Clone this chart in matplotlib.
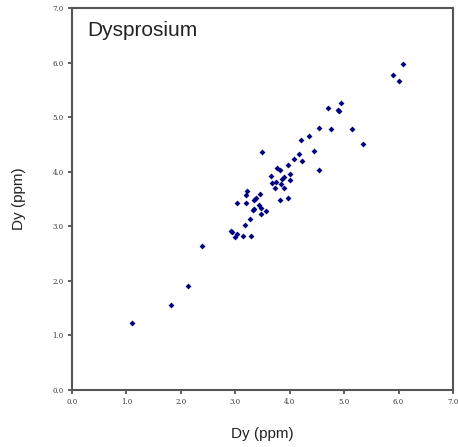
import matplotlib
matplotlib.use("Agg")
import matplotlib.pyplot as plt

# Dy measured vs Dy reference (ppm)
dy_x = [1.11, 1.82, 2.14, 2.39, 2.92, 2.94, 3.04, 3.00, 3.15, 3.28,
        3.17, 3.27, 3.47, 3.56, 3.32, 3.35, 3.48, 3.44, 3.04, 3.20,
        3.35, 3.38, 3.46, 3.19, 3.21, 3.83, 3.96, 3.73, 3.90, 3.67,
        3.74, 3.84, 4.00, 3.86, 3.66, 3.90, 4.00, 3.76, 3.83, 3.97,
        4.07, 4.22, 4.17, 4.53, 3.49, 4.44, 4.21, 4.36, 4.53, 4.75,
        5.14, 5.34, 4.70, 4.88, 4.90, 4.95, 5.90, 6.00, 6.08]
dy_y = [1.22, 1.56, 1.91, 2.64, 2.91, 2.90, 2.85, 2.80, 2.83, 2.83,
        3.02, 3.14, 3.23, 3.28, 3.29, 3.31, 3.33, 3.39, 3.43, 3.43,
        3.48, 3.51, 3.59, 3.57, 3.65, 3.48, 3.51, 3.71, 3.71, 3.79,
        3.82, 3.78, 3.84, 3.86, 3.92, 3.91, 3.96, 4.06, 4.03, 4.13,
        4.24, 4.19, 4.33, 4.04, 4.36, 4.38, 4.58, 4.65, 4.81, 4.78,
        4.78, 4.51, 5.16, 5.13, 5.11, 5.26, 5.78, 5.67, 5.98]
ticks = [0, 1, 2, 3, 4, 5, 6, 7]
tick_labels = ["%.1f" % t for t in ticks]

fig = plt.figure(figsize=(4.58, 4.47), dpi=100)
ax = fig.add_axes([72 / 458, 57 / 447, 381 / 458, 382 / 447])

ax.scatter(dy_x, dy_y, marker="D", s=9, color="#000080", linewidths=0, zorder=3)

ax.set_xlim(0, 7)
ax.set_ylim(0, 7)
ax.set_xticks(ticks)
ax.set_yticks(ticks)
ax.set_xticklabels(tick_labels, family="DejaVu Serif", fontsize=5, color="#333333")
ax.set_yticklabels(tick_labels, family="DejaVu Serif", fontsize=5, color="#333333")
ax.tick_params(direction="out", length=3, width=1.2, color="#444444", pad=3)

for sp in ax.spines.values():
    sp.set_color("#555555")
    sp.set_linewidth(1.5)

ax.text(0.04, 0.965, "Dysprosium", transform=ax.transAxes, ha="left", va="top",
        family="Liberation Sans", fontsize=15, color="#222222")

ax.set_xlabel("Dy (ppm)", family="Liberation Sans", fontsize=11, color="#222222", labelpad=15)
ax.set_ylabel("Dy (ppm)", family="Liberation Sans", fontsize=11, color="#222222", labelpad=19)

fig.savefig("out.png", dpi=100)
